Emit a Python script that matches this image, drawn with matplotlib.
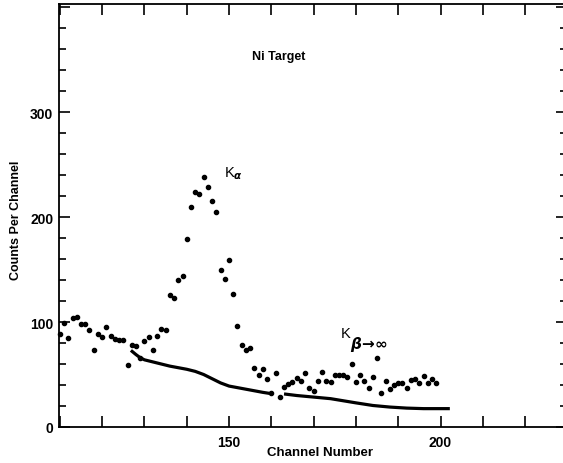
import matplotlib
matplotlib.use("Agg")
import matplotlib.pyplot as plt
from matplotlib.ticker import MultipleLocator

# Ni target spectrum: counts per channel, with the fitted background curve.

# measured counts, one per channel (channel 110 .. 199)
channels = list(range(110, 200))
counts = [
    89, 99, 85, 104, 105, 98, 98, 92, 73, 89,
    86, 95, 87, 84, 83, 83, 59, 78, 77, 66,
    82, 86, 73, 87, 93, 92, 126, 123, 140, 144,
    179, 210, 224, 222, 238, 229, 215, 205, 150, 141,
    159, 127, 96, 78, 73, 75, 56, 50, 55, 46,
    32, 51, 29, 38, 41, 43, 47, 44, 51, 37,
    34, 44, 52, 44, 43, 50, 50, 50, 48, 60,
    43, 50, 44, 37, 48, 66, 32, 44, 36, 40,
    42, 42, 37, 45, 46, 42, 49, 42, 46, 42,
]

# background curve, drawn in two pieces (gap near channel 161)
bg_chan_1 = [126.8, 128, 129, 130, 132, 134, 136, 138, 140, 142, 144, 146, 148, 150, 152, 154, 156, 158, 159.6]
bg_val_1 = [73, 69, 66, 64, 62, 60, 58, 56.5, 55, 53, 50, 46, 42, 39, 37.5, 36, 34.5, 33, 32]
bg_chan_2 = [163, 166, 170, 174, 177, 180, 184, 188, 192, 196, 200, 202.2]
bg_val_2 = [31.5, 30, 28.5, 27, 25, 23, 20.5, 19, 18, 17.5, 17.5, 17.5]

x_tick_labels = {150: "150", 200: "200"}
y_tick_labels = {0: "0", 100: "100", 200: "200", 300: "300"}

plt.rcParams['font.family'] = ['Liberation Sans', 'DejaVu Sans']
plt.rcParams['font.weight'] = 'bold'

fig = plt.figure(figsize=(5.63, 4.64), dpi=100)
# right edge of the frame is cut off by the scan, so push it just past the figure
ax = fig.add_axes([59 / 563, 36 / 464, 508 / 563, 423 / 464])

# data points and background line
ax.plot(channels, counts, 'o', color='black', markersize=3.0, clip_on=False, zorder=3)
ax.plot(bg_chan_1, bg_val_1, '-', color='black', linewidth=2.3, solid_capstyle='butt')
ax.plot(bg_chan_2, bg_val_2, '-', color='black', linewidth=2.3, solid_capstyle='butt')

ax.set_xlim(109.8, 229.9)
ax.set_ylim(0, 403)

# ticks: every 10 channels, every 20 counts, all pointing inward on all four sides
ax.xaxis.set_major_locator(MultipleLocator(10))
ax.yaxis.set_major_locator(MultipleLocator(100))
ax.yaxis.set_minor_locator(MultipleLocator(20))
ax.set_xticklabels([x_tick_labels.get(int(round(t)), "") for t in ax.get_xticks()])
ax.set_yticklabels([y_tick_labels.get(int(round(t)), "") for t in ax.get_yticks()])
ax.tick_params(which='both', direction='in', top=True, right=True, width=1.2)
ax.tick_params(which='major', length=8, labelsize=10, pad=4)
ax.tick_params(which='minor', length=5)
ax.tick_params(axis='x', pad=6)
for spine in ax.spines.values():
    spine.set_linewidth(1.3)

ax.set_xlabel('Channel Number', fontsize=9.5, fontweight='bold')
ax.set_ylabel('Counts Per Channel', fontsize=9, fontweight='bold')
ax.xaxis.set_label_coords(0.514, -0.045)
ax.yaxis.set_label_coords(-0.072, 0.49)

# annotations
ax.text(161.7, 353, 'Ni Target', fontsize=9, fontweight='bold', ha='center', va='center')
ax.text(148.8, 242, r'K$_{\alpha}$', fontsize=10.5, fontweight='normal', ha='left', va='center')
ax.text(176.4, 90, 'K', fontsize=10.5, fontweight='normal', ha='left', va='center')
ax.text(178.6, 80, r'$\beta\!\rightarrow\!\infty$', fontsize=11, ha='left', va='center')

fig.savefig('out.png', dpi=100)
